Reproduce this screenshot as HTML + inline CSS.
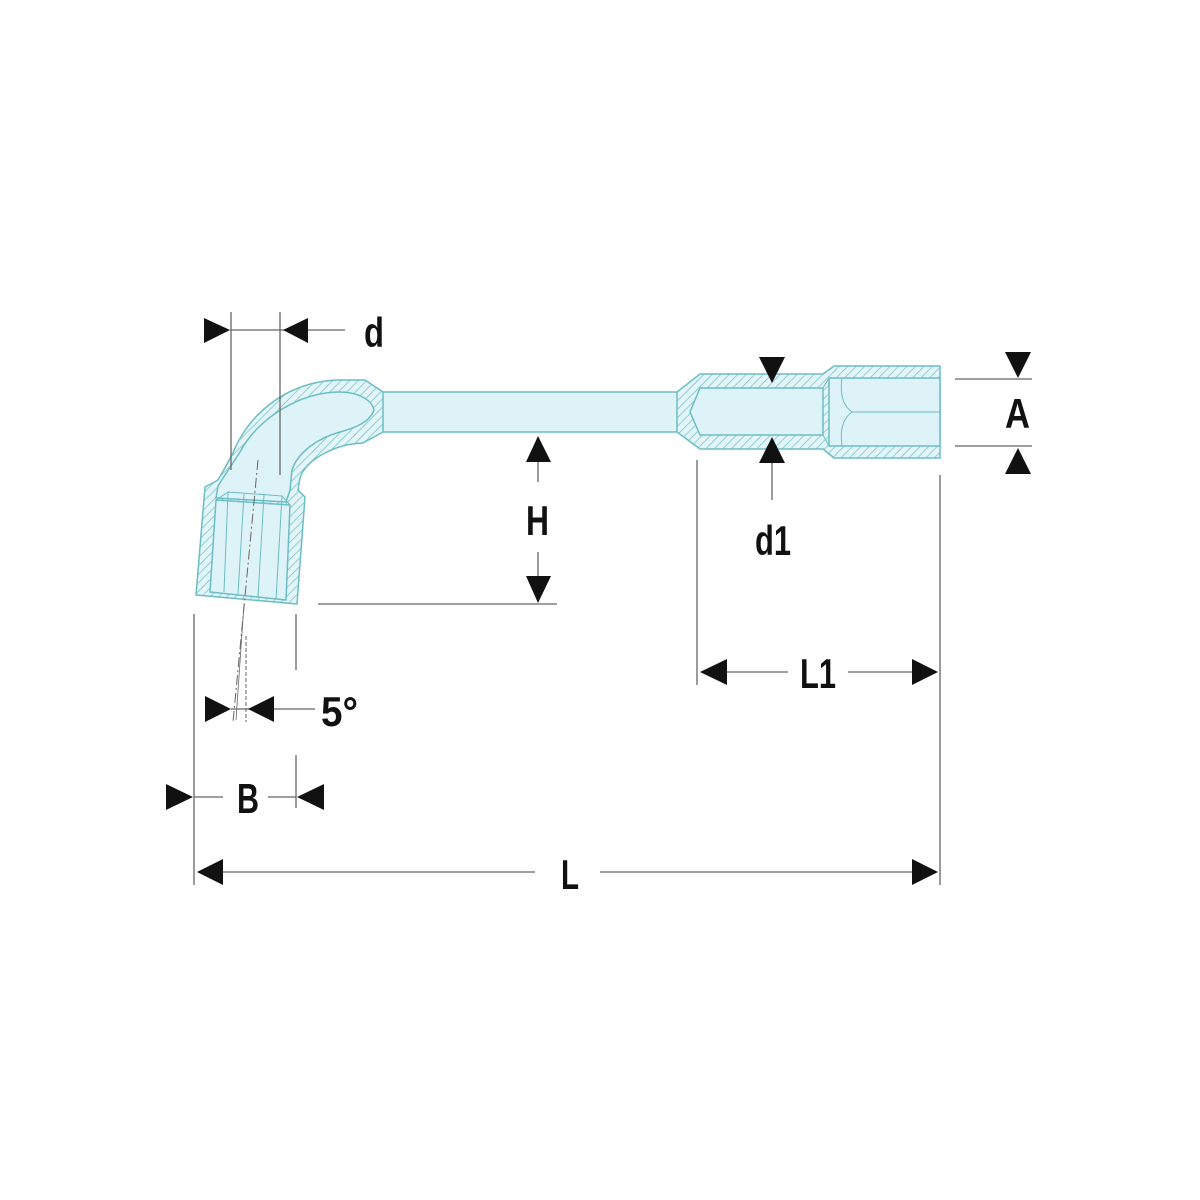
<!DOCTYPE html>
<html><head><meta charset="utf-8"><style>
html,body{margin:0;padding:0;background:#fff;}
svg{display:block}
text{font-family:"Liberation Sans Narrow","Liberation Sans",sans-serif;font-weight:bold;fill:#111;}
</style></head><body>
<svg width="1200" height="1200" viewBox="0 0 1200 1200" xmlns="http://www.w3.org/2000/svg">
<defs>
<pattern id="h" width="6" height="6" patternUnits="userSpaceOnUse" patternTransform="rotate(45)">
<rect width="6" height="6" fill="#e3f5f8"/>
<line x1="0" y1="0" x2="0" y2="6" stroke="#7cc6cc" stroke-width="1.6"/>
</pattern>
</defs>
<g stroke="#6cbdc4" stroke-width="1.5" stroke-linejoin="round">
<rect x="380" y="392" width="300" height="40" fill="#def3f7"/>
<path d="M205,487 L218,480 C224,470 228,462 232,455 C250,410 290,382 337,380 L365,380 L383,392 L383,432 L363,443 C335,444 305,460 300,478 L298,490 L305,497 L297,604 L196,595 Z" fill="url(#h)"/>
<path d="M216,498 L218,486 C228,470 235,460 240,452 C258,418 300,392 340,392 C358,392 372,400 374,410 C370,422 355,428 340,432 C318,438 298,452 292,470 L290,490 L286,502 Z" fill="#def3f7"/>
<path d="M216,500 L290,505 L286,600 L210,592 Z" fill="#def3f7"/>
<path d="M216,500 L228,492 L282,496 L290,505" fill="none" stroke-width="1"/>
<path d="M228,492 L224,592 M282,496 L276,599 M244,494 L238,594 M264,495 L258,597" fill="none" stroke-width="1"/>
<path d="M677,392 L700,374 L823,374 L834,366 L940,366 L940,458 L834,458 L823,449 L700,449 L677,432 Z" fill="url(#h)"/>
<path d="M700,388 L823,388 L823,435 L700,435 L690,412 Z" fill="#def3f7"/>
<path d="M829,378 L940,378 L940,446 L829,446 Z" fill="#def3f7"/>
<path d="M823,388 L829,378 M823,435 L829,446 M852,412 L940,412 M852,412 C842,405 840,392 842,378 M852,412 C842,419 840,432 842,446" fill="none" stroke-width="1"/>
</g>
<g stroke="#666" stroke-width="1.3" fill="none">
<line x1="231" y1="312" x2="231" y2="470"/>
<line x1="280" y1="312" x2="280" y2="475"/>
<line x1="230" y1="330" x2="345" y2="330"/>
<line x1="538" y1="462" x2="538" y2="482"/>
<line x1="538" y1="552" x2="538" y2="578"/>
<line x1="318" y1="604" x2="557" y2="604"/>
<line x1="955" y1="379" x2="1032" y2="379"/>
<line x1="955" y1="446" x2="1032" y2="446"/>
<line x1="772" y1="463" x2="772" y2="500"/>
<line x1="697" y1="460" x2="697" y2="685"/>
<line x1="940" y1="475" x2="940" y2="885"/>
<line x1="727" y1="672" x2="788" y2="672"/>
<line x1="848" y1="672" x2="912" y2="672"/>
<line x1="223" y1="872" x2="535" y2="872"/>
<line x1="600" y1="872" x2="912" y2="872"/>
<line x1="194" y1="614" x2="194" y2="885"/>
<line x1="296" y1="614" x2="296" y2="670"/>
<line x1="296" y1="755" x2="296" y2="808"/>
<line x1="194" y1="797" x2="223" y2="797"/>
<line x1="268" y1="797" x2="296" y2="797"/>
<line x1="231" y1="709" x2="315" y2="709"/>
<line x1="258" y1="460" x2="233" y2="722" stroke-dasharray="10,3,2,3" stroke-width="1"/>
<line x1="246" y1="636" x2="246" y2="722" stroke-dasharray="4,2" stroke-width="1"/>
<line x1="244" y1="604" x2="236" y2="720" stroke-width="0.8"/>
</g>
<g fill="#111">
<polygon points="204,318 230,330 204,343"/>
<polygon points="308,318 283,330 308,343"/>
<polygon points="526,462 538,436 551,462"/>
<polygon points="526,576 538,603 551,576"/>
<polygon points="1005,352 1018,378 1031,352"/>
<polygon points="1005,474 1018,448 1031,474"/>
<polygon points="759,357 772,383 785,357"/>
<polygon points="759,463 772,437 785,463"/>
<polygon points="727,659 700,672 727,685"/>
<polygon points="912,659 938,672 912,685"/>
<polygon points="223,859 197,872 223,885"/>
<polygon points="912,859 938,872 912,885"/>
<polygon points="166,784 193,797 166,810"/>
<polygon points="324,784 297,797 324,810"/>
<polygon points="205,696 231,709 205,722"/>
<polygon points="274,696 248,709 274,722"/>
</g>
<g font-size="42">
<text x="364" y="347" textLength="20" lengthAdjust="spacingAndGlyphs">d</text>
<text x="526" y="535" textLength="23" lengthAdjust="spacingAndGlyphs">H</text>
<text x="1005" y="428" textLength="25" lengthAdjust="spacingAndGlyphs">A</text>
<text x="755" y="555" textLength="36" lengthAdjust="spacingAndGlyphs">d1</text>
<text x="800" y="688" textLength="36" lengthAdjust="spacingAndGlyphs">L1</text>
<text x="561" y="889" textLength="18" lengthAdjust="spacingAndGlyphs">L</text>
<text x="237" y="813" textLength="22" lengthAdjust="spacingAndGlyphs">B</text>
<text x="321" y="726" textLength="37" lengthAdjust="spacingAndGlyphs">5°</text>
</g>
</svg>
</body></html>
